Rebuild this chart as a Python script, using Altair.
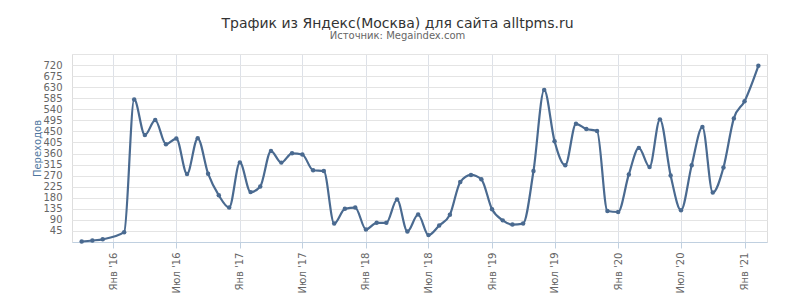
import altair as alt
import pandas as pd

# Monthly data (Jan 2016 missing in the source)
months = [
    "2015-10-01", "2015-11-01", "2015-12-01",
    "2016-02-01", "2016-03-01", "2016-04-01", "2016-05-01", "2016-06-01",
    "2016-07-01", "2016-08-01", "2016-09-01", "2016-10-01", "2016-11-01", "2016-12-01",
    "2017-01-01", "2017-02-01", "2017-03-01", "2017-04-01", "2017-05-01", "2017-06-01",
    "2017-07-01", "2017-08-01", "2017-09-01", "2017-10-01", "2017-11-01", "2017-12-01",
    "2018-01-01", "2018-02-01", "2018-03-01", "2018-04-01", "2018-05-01", "2018-06-01",
    "2018-07-01", "2018-08-01", "2018-09-01", "2018-10-01", "2018-11-01", "2018-12-01",
    "2019-01-01", "2019-02-01", "2019-03-01", "2019-04-01", "2019-05-01", "2019-06-01",
    "2019-07-01", "2019-08-01", "2019-09-01", "2019-10-01", "2019-11-01", "2019-12-01",
    "2020-01-01", "2020-02-01", "2020-03-01", "2020-04-01", "2020-05-01", "2020-06-01",
    "2020-07-01", "2020-08-01", "2020-09-01", "2020-10-01", "2020-11-01", "2020-12-01",
    "2021-01-01", "2021-02-10",
]
visits = [
    2, 6, 11,
    40, 580, 435, 496, 398,
    421, 277, 422, 278, 190, 140,
    324, 203, 226, 370, 323, 361,
    356, 292, 289, 75, 135, 140,
    51, 78, 78, 173, 43, 112,
    28, 67, 111, 244, 273, 255,
    133, 88, 71, 75, 289, 619,
    410, 312, 481, 460, 452, 126,
    122, 275, 383, 305, 499, 271,
    129, 312, 468, 201, 303, 503,
    573, 717,
]

x_tick_dates = [
    "2016-01-01", "2016-07-01", "2017-01-01", "2017-07-01", "2018-01-01", "2018-07-01",
    "2019-01-01", "2019-07-01", "2020-01-01", "2020-07-01", "2021-01-01",
]
x_domain_dates = ["2015-09-03", "2021-03-07"]
y_ticks = list(range(0, 766, 45))

title_text = "Трафик из Яндекс(Москва) для сайта alltpms.ru"
subtitle_text = "Источник: Megaindex.com"
y_title = "Переходов"


def to_ms(d):
    return int(pd.Timestamp(d, tz="UTC").value // 10**6)


x_ticks_ms = [to_ms(d) for d in x_tick_dates]
x_domain_ms = [to_ms(d) for d in x_domain_dates]

df = pd.DataFrame({"date": months, "visits": visits})

FONT = "DejaVu Sans"
LINE_COLOR = "#4a6a90"

base = alt.Chart(df).encode(
    x=alt.X(
        "date:T",
        scale=alt.Scale(type="utc", domain=x_domain_ms, nice=False),
        axis=alt.Axis(
            values=x_ticks_ms,
            labelExpr="(utcFormat(datum.value, '%m') == '01' ? 'Янв' : 'Июл') + \" '\" + utcFormat(datum.value, '%y')",
            labelAngle=270,
            labelFontSize=10,
            labelColor="#666666",
            labelFont=FONT,
            labelPadding=4,
            tickSize=6,
            tickColor="#c0d0e0",
            domainColor="#c0d0e0",
            gridColor="#dde1e8",
            grid=True,
            title=None,
        ),
    ),
    y=alt.Y(
        "visits:Q",
        scale=alt.Scale(domain=[0, 765], nice=False, zero=True),
        axis=alt.Axis(
            values=y_ticks,
            labelExpr="(datum.value == 0 || datum.value == 765) ? '' : datum.label",
            ticks=False,
            domain=False,
            labelFontSize=10,
            labelColor="#666666",
            labelFont=FONT,
            labelPadding=10,
            gridColor="#e4e4e4",
            title=y_title,
            titleColor="#4d759e",
            titleFont=FONT,
            titleFontSize=10,
            titleFontWeight="normal",
            titlePadding=0,
        ),
    ),
)

line = base.mark_line(interpolate="monotone", color=LINE_COLOR, strokeWidth=2.2)
pts = base.mark_point(filled=True, size=20, color=LINE_COLOR, opacity=1)

chart = (
    (line + pts)
    .properties(
        width=695,
        height=188,
        autosize=alt.AutoSizeParams(type="none"),
        padding={"left": 72, "top": 54, "right": 40, "bottom": 65},
        title=alt.TitleParams(
            text=title_text,
            subtitle=subtitle_text,
            font=FONT,
            fontSize=14,
            fontWeight="normal",
            color="#333333",
            subtitleFont=FONT,
            subtitleFontSize=10,
            subtitleColor="#666666",
            subtitlePadding=0,
            anchor="middle",
            offset=13,
            dx=-22,
        ),
    )
    .configure_view(stroke=None)
    .configure(background="white")
)

chart.save("out.html", embed_options={"renderer": "svg", "actions": False})
